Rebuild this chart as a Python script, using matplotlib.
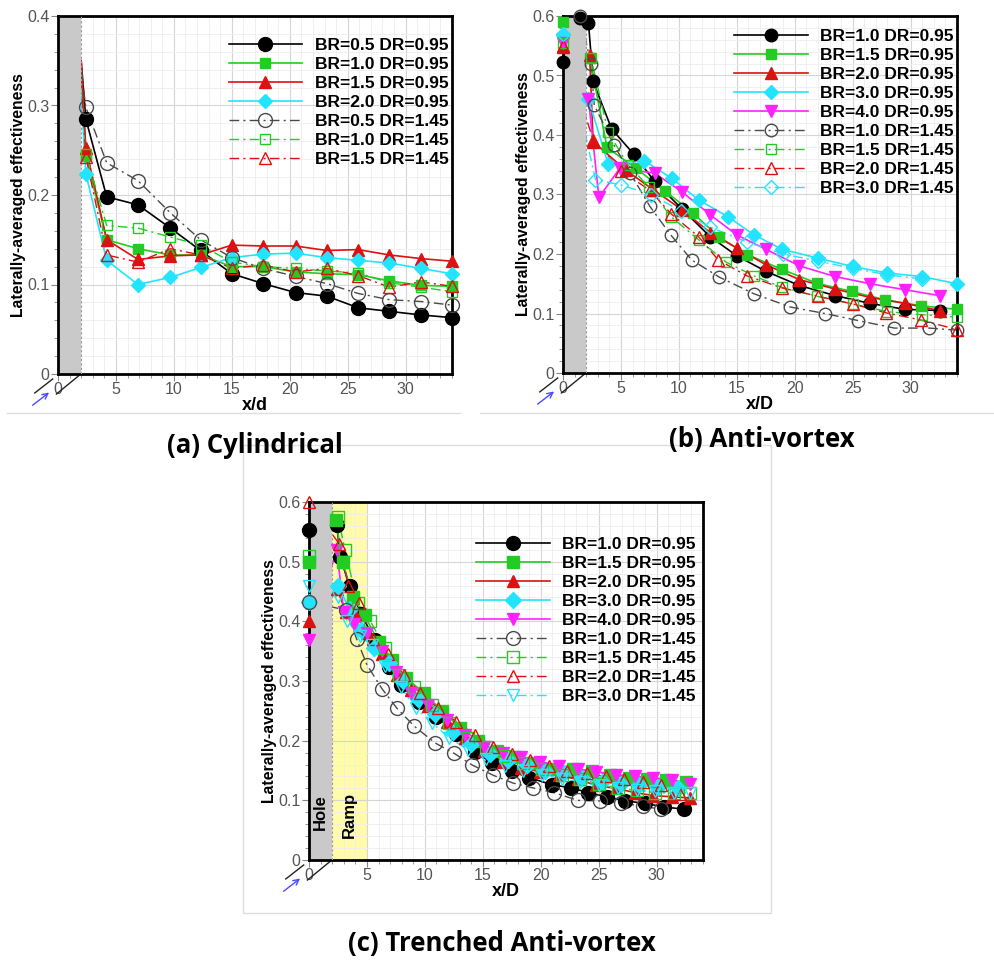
import matplotlib
matplotlib.use('Agg')
import matplotlib.pyplot as plt
from matplotlib.lines import Line2D
from matplotlib.patches import Rectangle
from matplotlib.ticker import MultipleLocator, FuncFormatter

plt.rcParams['font.family'] = ['Liberation Sans', 'DejaVu Sans']

# ---------------- (a) Cylindrical ----------------
a_labels = ['BR=0.5 DR=0.95', 'BR=1.0 DR=0.95', 'BR=1.5 DR=0.95', 'BR=2.0 DR=0.95',
            'BR=0.5 DR=1.45', 'BR=1.0 DR=1.45', 'BR=1.5 DR=1.45']
# first point (x=2) is the hole exit, drawn as line only
a_x = [2.0, 2.4, 4.2, 6.9, 9.7, 12.3, 15.0, 17.7, 20.5, 23.2, 25.9, 28.6, 31.3, 34.0]
a_br05_dr095 = [0.35, 0.285, 0.198, 0.189, 0.163, 0.138, 0.112, 0.101, 0.091, 0.087, 0.074, 0.070, 0.066, 0.063]
a_br10_dr095 = [0.34, 0.244, 0.150, 0.140, 0.133, 0.133, 0.120, 0.120, 0.114, 0.112, 0.111, 0.104, 0.099, 0.098]
a_br15_dr095 = [0.35, 0.253, 0.150, 0.128, 0.132, 0.133, 0.144, 0.143, 0.143, 0.138, 0.139, 0.133, 0.129, 0.126]
a_br20_dr095 = [0.31, 0.224, 0.127, 0.100, 0.108, 0.119, 0.130, 0.134, 0.135, 0.130, 0.127, 0.124, 0.118, 0.112]
a_br05_dr145 = [0.34, 0.298, 0.236, 0.216, 0.180, 0.150, 0.130, 0.118, 0.109, 0.101, 0.090, 0.083, 0.081, 0.077]
a_br10_dr145 = [0.33, 0.246, 0.166, 0.163, 0.153, 0.144, 0.125, 0.120, 0.118, 0.115, 0.113, 0.102, 0.097, 0.092]
a_br15_dr145 = [0.33, 0.243, 0.133, 0.125, 0.140, 0.133, 0.118, 0.122, 0.114, 0.118, 0.110, 0.097, 0.103, 0.098]

# ---------------- (b) Anti-vortex ----------------
b_labels = ['BR=1.0 DR=0.95', 'BR=1.5 DR=0.95', 'BR=2.0 DR=0.95', 'BR=3.0 DR=0.95', 'BR=4.0 DR=0.95',
            'BR=1.0 DR=1.45', 'BR=1.5 DR=1.45', 'BR=2.0 DR=1.45', 'BR=3.0 DR=1.45']
b_x_br10_dr095 = [0.0, 1.5, 2.2, 2.6, 4.2, 6.1, 7.9, 10.3, 12.7, 15.0, 17.5, 20.4, 23.5, 26.5, 29.5, 32.5]
b_y_br10_dr095 = [0.523, 0.596, 0.588, 0.49, 0.41, 0.368, 0.322, 0.275, 0.229, 0.197, 0.171, 0.147, 0.130, 0.117, 0.107, 0.105]
b_x_br15_dr095 = [0.0, 2.3, 3.8, 6.3, 8.8, 11.2, 13.5, 15.9, 18.9, 21.9, 24.9, 27.8, 30.9, 34.0]
b_y_br15_dr095 = [0.59, 0.53, 0.379, 0.344, 0.306, 0.269, 0.228, 0.199, 0.174, 0.151, 0.137, 0.123, 0.113, 0.107]
b_x_br20_dr095 = [0.0, 2.3, 2.6, 5.4, 7.8, 10.3, 12.7, 15.0, 17.5, 20.4, 23.5, 26.5, 29.5, 32.5]
b_y_br20_dr095 = [0.548, 0.534, 0.389, 0.341, 0.308, 0.274, 0.236, 0.210, 0.182, 0.157, 0.141, 0.127, 0.117, 0.105]
b_x_br30_dr095 = [0.0, 2.2, 3.9, 7.0, 9.4, 11.7, 14.2, 16.5, 18.9, 22.0, 25.0, 28.0, 31.0, 34.0]
b_y_br30_dr095 = [0.568, 0.46, 0.351, 0.357, 0.327, 0.291, 0.263, 0.232, 0.208, 0.193, 0.179, 0.168, 0.162, 0.150]
b_x_br40_dr095 = [0.0, 2.2, 3.1, 4.9, 7.9, 10.3, 12.7, 15.0, 17.5, 20.4, 23.5, 26.5, 29.5, 32.5]
b_y_br40_dr095 = [0.555, 0.46, 0.295, 0.344, 0.336, 0.304, 0.266, 0.232, 0.208, 0.180, 0.162, 0.150, 0.140, 0.130]
b_x_br10_dr145 = [1.5, 2.4, 2.7, 4.4, 5.8, 7.5, 9.3, 11.1, 13.5, 16.5, 19.6, 22.6, 25.5, 28.6, 31.6, 34.0]
b_y_br10_dr145 = [0.6, 0.52, 0.45, 0.383, 0.336, 0.28, 0.232, 0.19, 0.161, 0.133, 0.111, 0.100, 0.088, 0.0755, 0.0755, 0.072]
b_x_br15_dr145 = [0.0, 2.4, 3.9, 5.6, 7.4, 9.3, 11.7, 14.1, 16.5, 18.9, 21.9, 25.0, 28.0, 31.0, 34.0]
b_y_br15_dr145 = [0.555, 0.53, 0.405, 0.35, 0.313, 0.263, 0.224, 0.186, 0.163, 0.144, 0.129, 0.116, 0.103, 0.098, 0.094]
b_x_br20_dr145 = [0.0, 2.6, 5.0, 7.5, 9.3, 11.7, 13.4, 15.9, 18.9, 22.0, 25.0, 27.9, 30.9, 34.0]
b_y_br20_dr145 = [0.55, 0.392, 0.34, 0.307, 0.268, 0.229, 0.19, 0.163, 0.143, 0.129, 0.116, 0.101, 0.089, 0.073]
b_x_br30_dr145 = [0.0, 2.8, 5.0, 7.6, 10.2, 12.7, 15.9, 19.0, 22.0, 25.0, 28.0, 31.0]
b_y_br30_dr145 = [0.57, 0.325, 0.316, 0.30, 0.272, 0.245, 0.220, 0.200, 0.188, 0.176, 0.165, 0.158]

# ---------------- (c) Trenched Anti-vortex ----------------
c_labels = b_labels
c_x_br10_dr095 = [0.0, 2.4, 2.7, 3.5, 4.5, 5.7, 6.9, 7.9, 9.5, 11.0, 12.7, 14.3, 15.8, 17.5, 19.0, 21.0, 22.6, 24.1, 25.7, 27.3, 29.0, 30.6, 32.4]
c_y_br10_dr095 = [0.553, 0.561, 0.508, 0.459, 0.412, 0.368, 0.324, 0.293, 0.265, 0.240, 0.212, 0.181, 0.163, 0.149, 0.138, 0.126, 0.121, 0.113, 0.106, 0.099, 0.095, 0.089, 0.085]
c_x_br15_dr095 = [0.0, 2.3, 2.9, 3.8, 4.8, 6.0, 7.2, 8.4, 9.9, 11.5, 13.0, 14.6, 16.2, 17.8, 19.4, 21.2, 22.8, 24.4, 26.0, 27.6, 29.2, 30.8, 32.5]
c_y_br15_dr095 = [0.50, 0.57, 0.50, 0.44, 0.41, 0.365, 0.335, 0.305, 0.28, 0.25, 0.222, 0.20, 0.182, 0.172, 0.162, 0.153, 0.152, 0.150, 0.143, 0.138, 0.136, 0.134, 0.130]
c_x_br20_dr095 = [0.0, 2.4, 3.2, 4.0, 5.0, 6.3, 7.6, 8.8, 10.3, 11.9, 13.5, 15.1, 16.7, 18.3, 19.9, 21.6, 23.2, 24.8, 26.5, 28.1, 29.7, 31.3, 32.9]
c_y_br20_dr095 = [0.40, 0.455, 0.415, 0.412, 0.38, 0.345, 0.31, 0.285, 0.258, 0.232, 0.205, 0.182, 0.165, 0.155, 0.148, 0.142, 0.135, 0.125, 0.120, 0.113, 0.108, 0.106, 0.104]
c_x_br30_dr095 = [0.0, 2.5, 3.5, 4.5, 5.6, 6.9, 8.1, 9.4, 10.9, 12.4, 14.0, 15.6, 17.2, 18.8, 20.4, 22.0, 23.6, 25.3, 26.9, 28.5, 30.1, 31.8]
c_y_br30_dr095 = [0.432, 0.46, 0.42, 0.385, 0.355, 0.33, 0.30, 0.27, 0.245, 0.215, 0.195, 0.178, 0.168, 0.160, 0.150, 0.145, 0.138, 0.130, 0.128, 0.125, 0.122, 0.121]
c_x_br40_dr095 = [0.0, 2.4, 3.0, 3.9, 5.0, 6.3, 7.5, 8.8, 10.3, 11.9, 13.5, 15.1, 16.7, 18.3, 19.9, 21.6, 23.2, 24.8, 26.5, 28.1, 29.7, 31.3, 32.9]
c_y_br40_dr095 = [0.368, 0.52, 0.416, 0.396, 0.38, 0.35, 0.315, 0.28, 0.26, 0.235, 0.21, 0.19, 0.18, 0.172, 0.165, 0.158, 0.152, 0.148, 0.143, 0.140, 0.138, 0.134, 0.128]
c_x_br10_dr145 = [0.0, 3.2, 4.1, 5.0, 6.3, 7.6, 9.1, 10.9, 12.5, 14.1, 15.9, 17.6, 19.3, 21.1, 23.2, 25.1, 26.9, 28.8, 30.4]
c_y_br10_dr145 = [0.432, 0.419, 0.371, 0.327, 0.287, 0.254, 0.224, 0.196, 0.179, 0.159, 0.142, 0.129, 0.121, 0.113, 0.100, 0.099, 0.096, 0.090, 0.085]
c_x_br15_dr145 = [0.0, 2.5, 3.1, 4.2, 5.3, 6.6, 7.8, 9.1, 10.6, 12.1, 13.7, 15.3, 16.9, 18.5, 20.1, 21.8, 23.4, 25.0, 26.7, 28.3, 29.9, 31.5, 32.9]
c_y_br15_dr145 = [0.51, 0.575, 0.52, 0.43, 0.40, 0.355, 0.31, 0.29, 0.26, 0.23, 0.205, 0.19, 0.175, 0.163, 0.152, 0.143, 0.135, 0.128, 0.120, 0.117, 0.113, 0.112, 0.112]
c_x_br20_dr145 = [0.0, 2.6, 3.4, 4.3, 5.5, 6.8, 8.2, 9.6, 11.1, 12.7, 14.3, 15.9, 17.5, 19.1, 20.7, 22.3, 24.0, 25.6, 27.2, 28.8, 30.4, 32.0]
c_y_br20_dr145 = [0.60, 0.53, 0.46, 0.43, 0.37, 0.345, 0.31, 0.28, 0.255, 0.232, 0.21, 0.19, 0.178, 0.168, 0.158, 0.15, 0.145, 0.14, 0.135, 0.130, 0.125, 0.11]
c_x_br30_dr145 = [0.0, 2.5, 3.3, 4.4, 5.4, 6.6, 7.9, 9.2, 10.6, 12.1, 13.7, 15.3, 16.9, 18.5, 20.1, 21.8, 23.4, 25.0, 26.7, 28.3, 29.9, 31.5, 32.9]
c_y_br30_dr145 = [0.46, 0.44, 0.40, 0.375, 0.36, 0.325, 0.29, 0.255, 0.23, 0.205, 0.185, 0.17, 0.158, 0.15, 0.143, 0.136, 0.13, 0.125, 0.12, 0.117, 0.115, 0.113, 0.112]

# styles: (colour, marker, size, filled, dash-dot)
BLACK, GREY, GREEN, RED, CYAN, MAGENTA = '#000000', '#4a4a4a', '#22cc22', '#dd1111', '#22e4ff', '#ff22ff'
DASHDOT = (0, (7, 3, 1.5, 3))

W, H = 995, 960


def fig_box(left, top, width, height):
    return [left / W, 1 - (top + height) / H, width / W, height / H]


def zero_fmt(v, pos):
    return '0' if abs(v) < 1e-9 else '%g' % v


def draw_panel(ax, series, xlabel, ymax, leg_anchor, hole_text=False):
    ax.set_xlim(0, 34)
    ax.set_ylim(0, ymax)
    ax.xaxis.set_major_locator(MultipleLocator(5))
    ax.xaxis.set_minor_locator(MultipleLocator(1))
    ax.yaxis.set_major_locator(MultipleLocator(0.1))
    ax.yaxis.set_minor_locator(MultipleLocator(0.02))
    ax.yaxis.set_major_formatter(FuncFormatter(zero_fmt))
    ax.grid(which='major', color='#d6d6d6', lw=0.8)
    ax.grid(which='minor', color='#eeeeee', lw=0.6)
    ax.set_axisbelow(True)
    ax.tick_params(which='both', direction='out', color='#888888', labelcolor='#555555',
                   labelsize=11.5, pad=1, top=False, right=False)
    ax.tick_params(which='major', length=5)
    ax.tick_params(which='minor', length=3)
    for s in ax.spines.values():
        s.set_linewidth(2)
        s.set_color('black')

    # hole (and ramp) regions
    ax.add_patch(Rectangle((0, 0), 2, ymax, facecolor='#c9c9c9', edgecolor='none', zorder=2.5))
    ax.axvline(2, color='#999999', lw=0.8, ls=(0, (2, 2)), zorder=2.6)
    if hole_text:
        ax.add_patch(Rectangle((2, 0), 3, ymax, facecolor='#fffba8', edgecolor='none', zorder=0.5))
        ax.text(1.0, 0.08, 'Hole', rotation=90, ha='center', va='center',
                fontsize=12, fontweight='bold', zorder=4)
        ax.text(3.5, 0.075, 'Ramp', rotation=90, ha='center', va='center',
                fontsize=12, fontweight='bold', zorder=4)

    handles = []
    for label, x, y, (col, mk, ms, filled, dashed), mark_from in series:
        ls = DASHDOT if dashed else '-'
        lw = 1.0 if dashed else 1.2
        mfc = col if filled else 'none'
        ax.plot(x, y, color=col, ls=ls, lw=lw, zorder=2)
        ax.plot(x[mark_from:], y[mark_from:], ls='none', marker=mk, ms=ms, mfc=mfc, mec=col,
                mew=1.0, zorder=3, clip_on=False)
        handles.append(Line2D([0], [0], color=col, ls=ls, lw=lw, marker=mk, ms=ms,
                              mfc=mfc, mec=col, mew=1.0, label=label))
    ax.legend(handles=handles, loc='upper left', bbox_to_anchor=leg_anchor, frameon=False,
              handlelength=4.25, handletextpad=0.7, labelspacing=0.22, borderpad=0,
              borderaxespad=0, numpoints=1, prop={'weight': 'bold', 'size': 12.5})

    ax.set_xlabel(xlabel, fontsize=13, fontweight='bold', labelpad=0)
    ax.set_ylabel('Laterally-averaged effectiveness', fontsize=11.3, fontweight='bold', labelpad=1)

    # tecplot-style 3D axis stubs and flow arrow at the origin
    kw = dict(transform=ax.transAxes, clip_on=False, color='#222222', lw=1.0)
    ax.plot([0.058, -0.004], [0.0, -0.056], **kw)
    ax.plot([-0.0135, -0.059], [-0.014, -0.053], **kw)
    ax.annotate('', xy=(-0.017, -0.047), xytext=(-0.07, -0.092), xycoords='axes fraction',
                arrowprops=dict(arrowstyle='->', color='#4a4aff', lw=1.0))


fig = plt.figure(figsize=(W / 100, H / 100), dpi=100)

# ---- panel (a)
a_styles = [(BLACK, 'o', 10, True, False), (GREEN, 's', 7.5, True, False),
            (RED, '^', 8.5, True, False), (CYAN, 'D', 7, True, False),
            (GREY, 'o', 10, False, True), (GREEN, 's', 7.5, False, True),
            (RED, '^', 8.5, False, True)]
a_y = [a_br05_dr095, a_br10_dr095, a_br15_dr095, a_br20_dr095,
       a_br05_dr145, a_br10_dr145, a_br15_dr145]
ax_a = fig.add_axes(fig_box(58, 16, 394, 358))
draw_panel(ax_a, [(l, a_x, y, s, 1) for l, y, s in zip(a_labels, a_y, a_styles)],
           'x/d', 0.4, (0.433, 0.938))

# ---- panel (b)
b_styles = [(BLACK, 'o', 9, True, False), (GREEN, 's', 7, True, False),
            (RED, '^', 8, True, False), (CYAN, 'D', 7, True, False),
            (MAGENTA, 'v', 8, True, False), (GREY, 'o', 9, False, True),
            (GREEN, 's', 7, False, True), (RED, '^', 8, False, True),
            (CYAN, 'D', 7, False, True)]
b_x = [b_x_br10_dr095, b_x_br15_dr095, b_x_br20_dr095, b_x_br30_dr095, b_x_br40_dr095,
       b_x_br10_dr145, b_x_br15_dr145, b_x_br20_dr145, b_x_br30_dr145]
b_y = [b_y_br10_dr095, b_y_br15_dr095, b_y_br20_dr095, b_y_br30_dr095, b_y_br40_dr095,
       b_y_br10_dr145, b_y_br15_dr145, b_y_br20_dr145, b_y_br30_dr145]
ax_b = fig.add_axes(fig_box(563, 16, 394, 357))
draw_panel(ax_b, list(zip(b_labels, b_x, b_y, b_styles, [0] * 9)), 'x/D', 0.6, (0.434, 0.963))

# ---- panel (c)
c_styles = [(BLACK, 'o', 10, True, False), (GREEN, 's', 8, True, False),
            (RED, '^', 9, True, False), (CYAN, 'D', 8, True, False),
            (MAGENTA, 'v', 9, True, False), (GREY, 'o', 10, False, True),
            (GREEN, 's', 8, False, True), (RED, '^', 9, False, True),
            (CYAN, 'v', 9, False, True)]
c_x = [c_x_br10_dr095, c_x_br15_dr095, c_x_br20_dr095, c_x_br30_dr095, c_x_br40_dr095,
       c_x_br10_dr145, c_x_br15_dr145, c_x_br20_dr145, c_x_br30_dr145]
c_y = [c_y_br10_dr095, c_y_br15_dr095, c_y_br20_dr095, c_y_br30_dr095, c_y_br40_dr095,
       c_y_br10_dr145, c_y_br15_dr145, c_y_br20_dr145, c_y_br30_dr145]
ax_c = fig.add_axes(fig_box(309, 502, 394, 358))
draw_panel(ax_c, list(zip(c_labels, c_x, c_y, c_styles, [0] * 9)), 'x/D', 0.6, (0.425, 0.902),
           hole_text=True)

# panel frames and captions
fig.add_artist(Line2D([7 / W, 460 / W], [1 - 413 / H] * 2, color='#dddddd', lw=1))
fig.add_artist(Line2D([480 / W, 993 / W], [1 - 413 / H] * 2, color='#dddddd', lw=1))
fig.add_artist(Rectangle((243 / W, 1 - 913 / H), 528 / W, 468 / H, fill=False,
                         edgecolor='#dddddd', lw=1, transform=fig.transFigure))
cap = dict(fontsize=18.5, fontweight='bold', family=['Open Sans', 'DejaVu Sans'],
           ha='center', va='center')
fig.text(255 / W, 1 - 445 / H, '(a) Cylindrical', **cap)
fig.text(762 / W, 1 - 440 / H, '(b) Anti-vortex', **cap)
fig.text(502 / W, 1 - 943 / H, '(c) Trenched Anti-vortex', **cap)

fig.savefig('out.png', dpi=100)
